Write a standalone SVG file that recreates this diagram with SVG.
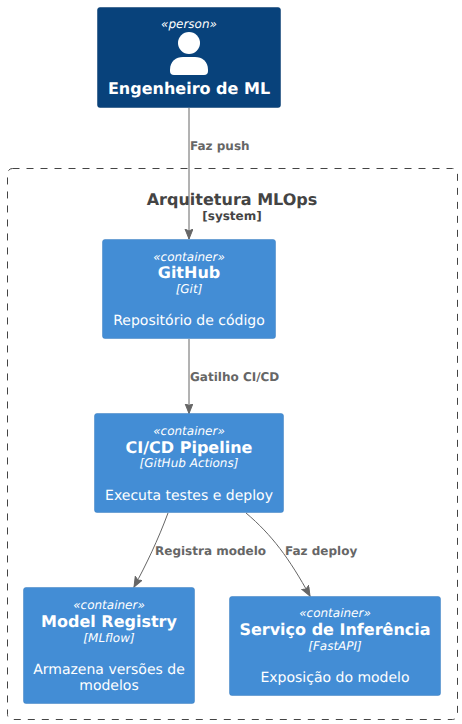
<svg xmlns="http://www.w3.org/2000/svg" width="462" height="724" viewBox="0 0 462 724">
<style>
text{font-family:"DejaVu Sans",sans-serif;text-anchor:middle;text-rendering:geometricPrecision}
.n{stroke-width:.5}
.c{fill:#438DD5;stroke:#3C7FC0}
.p{fill:#08427B;stroke:#073B6F}
.st{font-size:12px;font-style:italic;fill:#fff}
.ti{font-size:16px;font-weight:bold;fill:#fff}
.te{font-size:12px;font-style:italic;fill:#fff}
.d{font-size:14px;fill:#fff}
.l{font-size:12px;font-weight:bold;fill:#666;text-anchor:start}
.e{fill:none;stroke:#666;stroke-width:1}
</style>
<defs><marker id="a" markerUnits="userSpaceOnUse" markerWidth="12" markerHeight="10" refX="10" refY="4" orient="auto"><path d="M0 0L10 4L0 8L2 4Z" fill="#666" stroke="#666"/></marker></defs>
<g id="boundary"><rect x="7.500" y="168.500" width="450" height="551" rx="5" fill="none" stroke="#444" stroke-dasharray="7 7"/>
<text x="232" y="205" font-size="16" font-weight="bold" fill="#444">Arquitetura MLOps</text>
<text x="232" y="220" font-size="12" font-weight="bold" fill="#444">[system]</text></g>
<g id="connectors">
<path class="e" marker-end="url(#a)" d="M189 108V239"/>
<path class="e" marker-end="url(#a)" d="M189 339V413.500"/>
<path class="e" marker-end="url(#a)" d="M168 513C158 540 146 565 134 587"/>
<path class="e" marker-end="url(#a)" d="M246 513C272 535 289 558 310 596"/>
<text class="l" x="190" y="150">Faz push</text>
<text class="l" x="190" y="381">Gatilho CI/CD</text>
<text class="l" x="155" y="555">Registra modelo</text>
<text class="l" x="285" y="555">Faz deploy</text>
</g>
<g id="engenheiro"><rect class="n p" x="97.500" y="7.500" width="183" height="100" rx="2.500"/>
<text class="st" x="189" y="28">«person»</text>
<circle cx="189" cy="43" r="11" fill="#fff"/><path d="M170 70C170 61 176 57 183 57H195C202 57 208 61 208 70V71Q208 75 204 75H174Q170 75 170 71Z" fill="#fff"/>
<text class="ti" x="189" y="94">Engenheiro de ML</text></g>
<g id="github"><rect class="n c" x="102.500" y="239.500" width="173" height="99" rx="2.500"/>
<text class="st" x="189" y="261">«container»</text>
<text class="ti" x="189" y="278">GitHub</text>
<text class="te" x="189" y="293">[Git]</text>
<text class="d" x="189" y="325">Repositório de código</text></g>
<g id="cicd"><rect class="n c" x="94.500" y="413.500" width="189" height="99" rx="2.500"/>
<text class="st" x="189" y="435">«container»</text>
<text class="ti" x="189" y="453">CI/CD Pipeline</text>
<text class="te" x="189" y="467">[GitHub Actions]</text>
<text class="d" x="189" y="500">Executa testes e deploy</text></g>
<g id="registry"><rect class="n c" x="23.500" y="587.500" width="171" height="116" rx="2.500"/>
<text class="st" x="109" y="609">«container»</text>
<text class="ti" x="109" y="627">Model Registry</text>
<text class="te" x="109" y="642">[MLflow]</text>
<text class="d" x="109" y="674">Armazena versões de</text>
<text class="d" x="109" y="690">modelos</text></g>
<g id="inferencia"><rect class="n c" x="229.500" y="596.500" width="211" height="99" rx="2.500"/>
<text class="st" x="335" y="617">«container»</text>
<text class="ti" x="335" y="635">Serviço de Inferência</text>
<text class="te" x="335" y="650">[FastAPI]</text>
<text class="d" x="335" y="682">Exposição do modelo</text></g>
</svg>
